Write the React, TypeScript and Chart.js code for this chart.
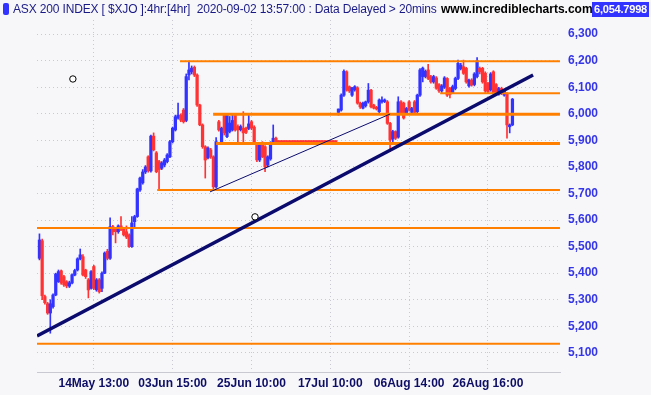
import React, { useEffect, useRef } from "react";
import { Chart, registerables } from "chart.js";

Chart.register(...registerables);

// ---- data (4hr bars, ASX 200) ----
const opens = [
  5456, 5522, 5312, 5285, 5250, 5274, 5318, 5368, 5409, 5387, 5368, 5351, 5363, 5393, 5412, 5454, 5462, 5412, 5375, 5343,
  5425, 5337, 5375, 5343, 5400, 5482, 5456, 5575, 5569, 5556, 5578, 5569, 5556, 5544, 5500, 5594, 5613, 5713, 5740, 5781,
  5838, 5785, 5916, 5853, 5820, 5795, 5807, 5820, 5838, 5895, 5939, 5984, 5995, 6014, 5975, 6146, 6158, 6175, 6146, 6033,
  5958, 5876, 5834, 5864, 5838, 5725, 5970, 5895, 5995, 5914, 5933, 5939, 5995, 5952, 5940, 5946, 5946, 5945, 5970, 5950,
  5882, 5826, 5890, 5876, 5807, 5830, 5890, 5908,
  5895, 5895, 5895, 5895, 5895, 5895, 5895, 5895, 5895, 5895, 5895, 5895, 5895, 5895, 5895, 5895, 5895, 5895, 5895, 5895, 5895, 5895,
  6005, 6014, 6070, 6158, 6102, 6070, 6090, 6098, 6040, 6021, 6030, 6045, 6089, 6033, 6024, 6008, 6045, 6046, 6045, 5964,
  5905, 5933, 5912, 6045, 6040, 6002, 6045, 6005, 6045, 6008, 6070, 6140, 6140, 6165, 6140, 6120, 6135, 6110, 6086, 6100,
  6133, 6096, 6080, 6095, 6133, 6170, 6177, 6171, 6105, 6127, 6110, 6140, 6171, 6171, 6153, 6114, 6090, 6158, 6110, 6075,
  6095, 6070, 6075, 5951, 5958,
];
const highs = [
  5548, 5528, 5318, 5290, 5300, 5322, 5400, 5412, 5412, 5392, 5372, 5370, 5398, 5415, 5458, 5491, 5470, 5415, 5380, 5410,
  5430, 5380, 5380, 5405, 5480, 5490, 5608, 5580, 5572, 5582, 5613, 5572, 5578, 5548, 5613, 5618, 5720, 5762, 5790, 5805,
  5842, 5920, 5928, 5858, 5825, 5820, 5832, 5850, 5900, 5950, 5995, 6040, 6000, 6020, 6150, 6198, 6180, 6180, 6150, 6036,
  5962, 5880, 5876, 5870, 5842, 5910, 5975, 5950, 6000, 6000, 5990, 5998, 6002, 5958, 5958, 6008, 5950, 5995, 5975, 5955,
  5886, 5886, 5895, 5880, 5842, 5895, 5958, 5912,
  5895, 5895, 5895, 5895, 5895, 5895, 5895, 5895, 5895, 5895, 5895, 5895, 5895, 5895, 5895, 5895, 5895, 5895, 5895, 5895, 5895, 5895,
  6018, 6075, 6165, 6162, 6105, 6100, 6106, 6102, 6044, 6044, 6048, 6114, 6092, 6036, 6028, 6056, 6064, 6056, 6050, 5968,
  5938, 5936, 6064, 6050, 6044, 6024, 6050, 6024, 6050, 6074, 6170, 6176, 6165, 6186, 6145, 6145, 6140, 6114, 6110, 6140,
  6136, 6100, 6108, 6138, 6202, 6190, 6202, 6175, 6131, 6132, 6155, 6212, 6176, 6175, 6158, 6118, 6155, 6162, 6114, 6100,
  6100, 6090, 6080, 5962, 6058,
];
const lows = [
  5450, 5300, 5283, 5245, 5174, 5268, 5315, 5365, 5358, 5350, 5345, 5346, 5360, 5390, 5408, 5450, 5390, 5380, 5307, 5340,
  5338, 5332, 5325, 5330, 5398, 5450, 5452, 5544, 5514, 5550, 5560, 5540, 5530, 5497, 5497, 5574, 5610, 5708, 5735, 5775,
  5780, 5780, 5860, 5778, 5711, 5790, 5800, 5815, 5835, 5890, 5935, 5980, 5970, 5965, 5970, 6127, 6150, 6140, 6028, 5955,
  5870, 5758, 5830, 5832, 5715, 5720, 5935, 5890, 5920, 5910, 5928, 5935, 5935, 5895, 5935, 5895, 5925, 5940, 5940, 5885,
  5820, 5820, 5835, 5782, 5800, 5825, 5885, 5890,
  5895, 5895, 5895, 5895, 5895, 5895, 5895, 5895, 5895, 5895, 5895, 5895, 5895, 5895, 5895, 5895, 5895, 5895, 5895, 5895, 5895, 5895,
  5995, 6010, 6065, 6085, 6080, 6065, 6085, 6036, 6020, 6018, 6025, 6040, 6022, 6018, 6014, 6004, 6040, 6042, 5960, 5857,
  5895, 5903, 5908, 5998, 5980, 5998, 6010, 6000, 6000, 6002, 6065, 6120, 6135, 6128, 6115, 6115, 6092, 6080, 6080, 6095,
  6065, 6060, 6076, 6090, 6128, 6165, 6148, 6115, 6100, 6104, 6105, 6135, 6150, 6115, 6080, 6078, 6085, 6072, 6072, 6070,
  6072, 6066, 5908, 5928, 5955,
];
const closes = [
  5525, 5315, 5289, 5250, 5285, 5318, 5397, 5406, 5363, 5356, 5352, 5364, 5394, 5410, 5454, 5469, 5393, 5387, 5337, 5406,
  5343, 5375, 5330, 5400, 5476, 5456, 5575, 5556, 5556, 5578, 5565, 5544, 5536, 5500, 5589, 5613, 5717, 5758, 5781, 5800,
  5785, 5916, 5864, 5782, 5790, 5815, 5826, 5845, 5895, 5946, 5989, 5995, 5976, 5970, 6140, 6165, 6172, 6146, 6033, 5958,
  5876, 5826, 5871, 5838, 5725, 5895, 5939, 5946, 5928, 5995, 5965, 5975, 5939, 5939, 5952, 5928, 5930, 5962, 5946, 5890,
  5826, 5882, 5838, 5800, 5838, 5890, 5908, 5895,
  5895, 5895, 5895, 5895, 5895, 5895, 5895, 5895, 5895, 5895, 5895, 5895, 5895, 5895, 5895, 5895, 5895, 5895, 5895, 5895, 5895, 5895,
  6018, 6070, 6160, 6089, 6086, 6098, 6102, 6040, 6026, 6040, 6045, 6089, 6026, 6021, 6018, 6052, 6052, 6052, 5964, 5901,
  5933, 5908, 6045, 6002, 5984, 6020, 6014, 6020, 6005, 6070, 6165, 6172, 6160, 6133, 6120, 6140, 6096, 6086, 6105, 6135,
  6070, 6073, 6102, 6133, 6190, 6183, 6152, 6120, 6127, 6108, 6150, 6200, 6158, 6120, 6086, 6083, 6150, 6077, 6077, 6095,
  6077, 6085, 5958, 5958, 6055,
];

// x-axis tick labels and the bar index they sit on
const xTickLabels = ["14May 13:00", "03Jun 15:00", "25Jun 10:00", "17Jul 10:00", "06Aug 14:00", "26Aug 16:00"];
const xTickIndex = [20, 49, 78, 107, 136, 165];
const yTicks = [5100, 5200, 5300, 5400, 5500, 5600, 5700, 5800, 5900, 6000, 6100, 6200, 6300];

// horizontal support / resistance levels (value, starting bar index)
const hLevels = [6198, 6077, 5998, 5888, 5713, 5570, 5134];
const hStarts = [51.7, 147.4, 63.9, 65.0, 43.3, -0.9, -0.9];
const hWidths = [2, 2, 3, 3, 2, 2, 2];

// trend lines: [startIdx, startVal, endIdx, endVal]
const trendMain = [-0.9, 5164, 181.6, 6146];
const trendThin = [62.75, 5706, 129.0, 5999];
// drawing anchors
const anchorIdx = [12.3, 79.3];
const anchorVal = [6131, 5612];

const X_MIN = -0.9;
const X_MAX = 191.5;
const Y_MIN = 5028;
const Y_MAX = 6353;

const BLUE = "#3333ff";
const RED = "#ff3333";
const ORANGE = "#ff8000";
const NAVY = "#0b0b6e";
const BG = "#f7f7fa";
const GRID = "#c9c9d2";

export default function App() {
  const ref = useRef<HTMLCanvasElement | null>(null);

  useEffect(() => {
    document.body.style.margin = "0";
    const canvas = ref.current!;
    const idx = opens.map((_, i) => i);
    const col = idx.map((i) => (closes[i] > opens[i] ? BLUE : RED));

    const lineDs = hLevels.map((v, k) => ({
      type: "line" as const,
      data: [
        { x: hStarts[k], y: v },
        { x: X_MAX, y: v },
      ],
      borderColor: ORANGE,
      borderWidth: hWidths[k],
      pointRadius: 0,
      order: 1,
    }));

    const chart = new Chart(canvas, {
      type: "bar",
      data: {
        datasets: [
          ...lineDs,
          {
            type: "line" as const,
            data: [
              { x: trendThin[0], y: trendThin[1] },
              { x: trendThin[2], y: trendThin[3] },
            ],
            borderColor: NAVY,
            borderWidth: 1,
            pointRadius: 0,
            order: 0,
          },
          {
            type: "line" as const,
            data: [
              { x: trendMain[0], y: trendMain[1] },
              { x: trendMain[2], y: trendMain[3] },
            ],
            borderColor: NAVY,
            borderWidth: 3.5,
            pointRadius: 0,
            order: 0,
          },
          {
            type: "line" as const,
            data: anchorIdx.map((x, k) => ({ x, y: anchorVal[k] })),
            showLine: false,
            pointRadius: 3.2,
            pointBackgroundColor: "#ffffff",
            pointBorderColor: "#000000",
            pointBorderWidth: 1,
            order: -1,
          },
          {
            type: "bar" as const,
            data: idx.map((i) => ({ x: i, y: [lows[i], highs[i]] })),
            backgroundColor: col,
            barThickness: 1,
            grouped: false,
            minBarLength: 1,
            order: 3,
          },
          {
            type: "bar" as const,
            data: idx.map((i) => ({ x: i, y: [opens[i], closes[i]] })),
            backgroundColor: col,
            barThickness: 2.6,
            grouped: false,
            minBarLength: 1,
            order: 2,
          },
        ] as any,
      },
      options: {
        responsive: false,
        animation: false,
        devicePixelRatio: 1,
        layout: { padding: { left: 37, top: 20, right: 0, bottom: 0 } },
        plugins: { legend: { display: false }, tooltip: { enabled: false }, title: { display: false } },
        scales: {
          x: {
            type: "linear",
            min: X_MIN,
            max: X_MAX,
            offset: false,
            afterBuildTicks: (s: any) => {
              s.ticks = xTickIndex.map((v) => ({ value: v }));
            },
            afterFit: (s: any) => {
              s.height = 23;
            },
            ticks: {
              autoSkip: false,
              maxRotation: 0,
              padding: 4,
              color: "#0d0d66",
              font: { family: "'Liberation Sans', Arial, sans-serif", size: 12, weight: "bold" },
              callback: (v: any) => {
                const k = xTickIndex.indexOf(Number(v));
                return k >= 0 ? xTickLabels[k] : "";
              },
            },
            grid: { color: GRID, drawTicks: false, offset: false },
            border: { display: true, color: GRID, dash: [1, 3] },
          },
          y: {
            type: "linear",
            position: "right",
            min: Y_MIN,
            max: Y_MAX,
            afterBuildTicks: (s: any) => {
              s.ticks = yTicks.map((v) => ({ value: v }));
            },
            afterFit: (s: any) => {
              s.width = 91;
            },
            ticks: {
              padding: 8,
              color: "#3535e8",
              font: { family: "'Liberation Sans', Arial, sans-serif", size: 12, weight: "bold" },
              callback: (v: any) => Number(v).toLocaleString("en-US"),
            },
            grid: { color: GRID, drawTicks: false },
            border: { display: false, color: GRID, dash: [1, 3] },
          },
        },
      } as any,
    });
    return () => chart.destroy();
  }, []);

  const font = "'Liberation Sans', Arial, sans-serif";
  return (
    <div style={{ position: "relative", width: 651, height: 395, background: BG, overflow: "hidden" }}>
      <canvas ref={ref} width={651} height={395} style={{ position: "absolute", left: 0, top: 0 }} />
      <div style={{ position: "absolute", left: 3, top: 3, width: 6, height: 12, background: BLUE, borderRadius: 2 }} />
      <div
        style={{
          position: "absolute",
          left: 13,
          top: 2,
          font: `12px ${font}`,
          letterSpacing: "-0.15px",
          color: "#1a1a86",
          whiteSpace: "pre",
          lineHeight: "15px",
        }}
      >
        {"ASX 200 INDEX [ $XJO ]:4hr:[4hr]  2020-09-02 13:57:00 : Data Delayed > 20mins"}
      </div>
      <div
        style={{
          position: "absolute",
          left: 441,
          top: 2,
          font: `bold 12px ${font}`,
          color: "#000000",
          whiteSpace: "pre",
          lineHeight: "15px",
        }}
      >
        www.incrediblecharts.com
      </div>
      <div
        style={{
          position: "absolute",
          left: 592,
          top: 2,
          width: 57,
          height: 15,
          background: BLUE,
          color: "#ffffff",
          font: `bold 11px ${font}`,
          letterSpacing: "-0.2px",
          lineHeight: "15px",
          textAlign: "center",
          whiteSpace: "pre",
        }}
      >
        6,054.7998
      </div>
    </div>
  );
}
